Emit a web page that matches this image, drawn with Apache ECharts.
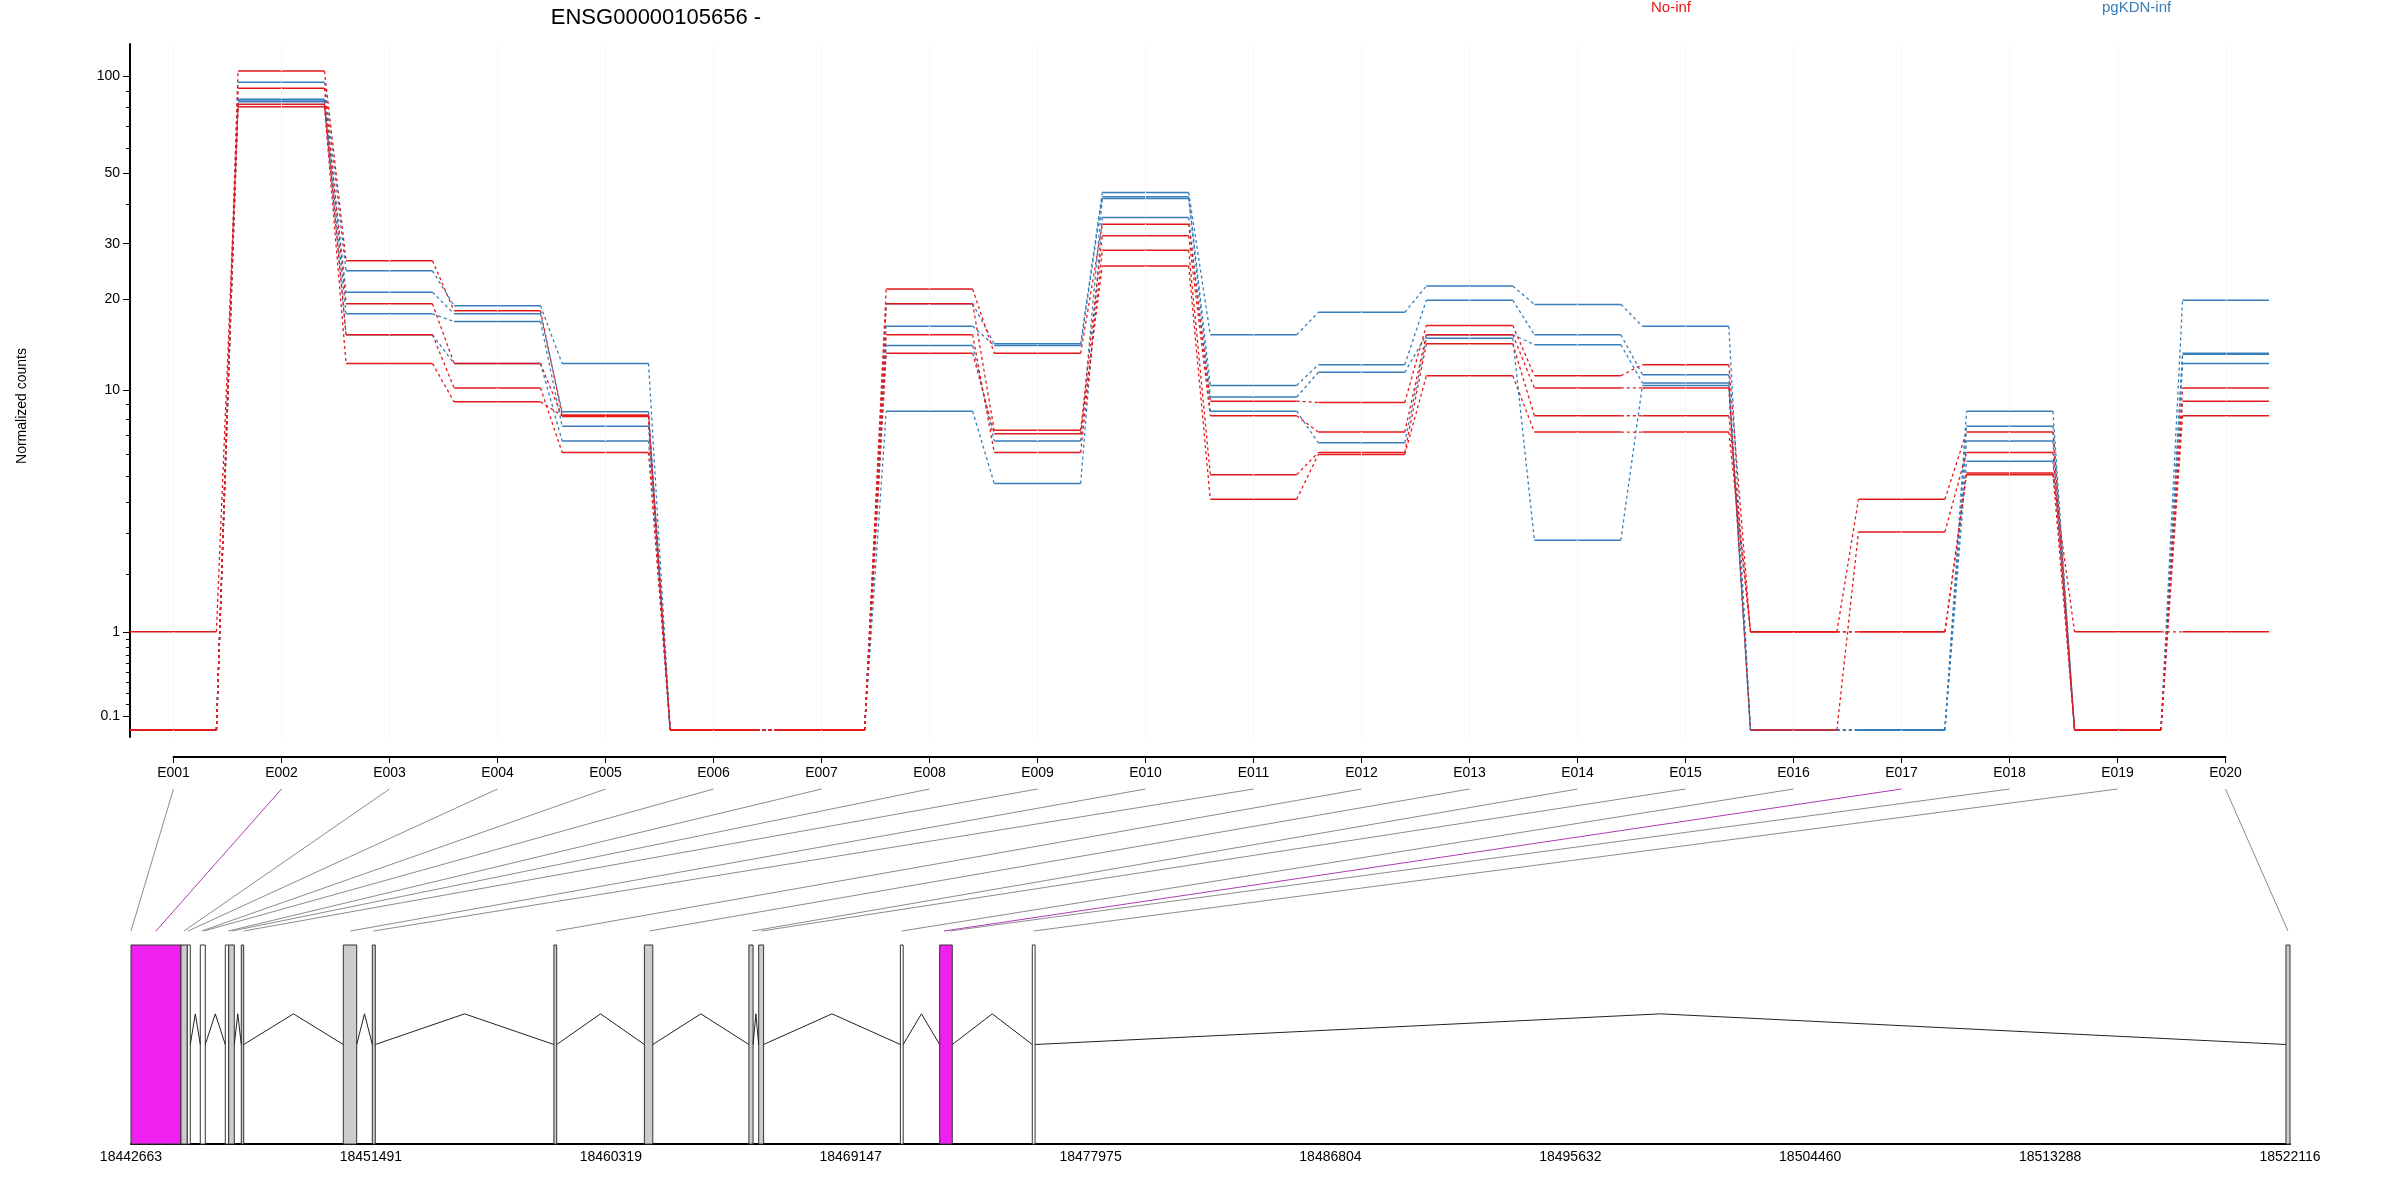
<!DOCTYPE html>
<html><head><meta charset="utf-8">
<script src="https://cdn.jsdelivr.net/npm/echarts@6/dist/echarts.min.js"></script>
<style>html,body{margin:0;padding:0;background:#fff}#c{width:2400px;height:1200px}</style>
</head><body><div id="c"></div>
<script>
const exons = ['E001','E002','E003','E004','E005','E006','E007','E008','E009','E010','E011','E012','E013','E014','E015','E016','E017','E018','E019','E020'];
const noInf1 = [0,104,26.5,18.3,8.25,0,0,21.5,13.3,34.6,9.2,9.1,16.4,11.2,12.2,1,4.1,7.2,0,10.2];
const noInf2 = [0,92,19.3,12.3,8.15,0,0,19.3,7.3,31.8,8.2,7.2,15.3,10.2,10.2,0,3.05,6.1,0,9.2];
const noInf3 = [0,82,15.3,10.2,6.1,0,0,15.3,6.1,28.6,5.07,6.1,14.3,8.2,8.2,1,1,5.14,0,8.2];
const noInf4 = [1,80.5,12.3,9.15,8.2,0,0,13.3,7.1,25.5,4.1,6.0,11.2,7.2,7.2,1,1,5.06,1,1];
const kdn1 = [0,96,24.6,19,12.3,0,0,19.3,14.3,43.5,15.3,18.1,22,19.2,16.3,0,0,8.5,0,19.8];
const kdn2 = [0,85,21,17.9,8.46,0,0,16.3,14.1,42.2,10.4,12.2,19.8,15.3,11.3,0,0,7.55,0,13.3];
const kdn3 = [0,83.5,17.9,16.9,7.55,0,0,14.1,6.7,41.7,9.5,11.5,15.3,14.2,10.6,0,0,6.7,0,13.2];
const kdn4 = [0,84.5,15.3,12.3,6.7,0,0,8.5,4.7,36.3,8.5,6.6,14.9,2.82,10.4,0,0,5.67,0,12.3];
const yTicks = [0.1,1,10,20,30,50,100];
const yMinor = [0.2,0.3,0.4,0.5,0.6,0.7,0.8,0.9,2,3,4,5,6,7,8,9,40,60,70,80,90];
const genomicTicks = [18442663,18451491,18460319,18469147,18477975,18486804,18495632,18504460,18513288,18522116];
const exonStart = [18442663,18444503,18444735,18445213,18446133,18446258,18446722,18450476,18451543,18458226,18461556,18465402,18465762,18470977,18472423,18475831,18521967];
const exonEnd   = [18444503,18444735,18444845,18445397,18446258,18446464,18446810,18450969,18451653,18458329,18461865,18465556,18465943,18471080,18472887,18475934,18522116];
const exonKind  = ['m','g','w','w','w','g','g','g','g','g','g','g','g','w','m','w','g'];
const binPos = [18442663,18443583,18444613,18444761,18445265,18445342,18446247,18446376,18446814,18450737,18451591,18458303,18461737,18465531,18465865,18471029,18472581,18472802,18475882,18522041];
const binSig = [false,true,false,false,false,false,false,false,false,false,false,false,false,false,false,false,true,false,false,false];

const RED='#e41a1c', BLUE='#377eb8';
const FONT="'Liberation Sans Narrow','Liberation Sans',sans-serif";
const tr = v => Math.log10(v+1);

function segSeries(vals,color){
  const d=[];
  vals.forEach((v,i)=>{d.push([i+1-0.4,tr(v)]);d.push([i+1+0.4,tr(v)]);d.push('-');});
  return {type:'line',xAxisIndex:0,yAxisIndex:0,data:d,showSymbol:false,symbol:'none',connectNulls:false,
    lineStyle:{color,width:1.5},animation:false,silent:true};
}
function dashSeries(vals,color){
  const d=[];
  for(let i=0;i<vals.length-1;i++){d.push([i+1+0.4,tr(vals[i])]);d.push([i+2-0.4,tr(vals[i+1])]);d.push('-');}
  return {type:'line',xAxisIndex:0,yAxisIndex:0,data:d,showSymbol:false,symbol:'none',connectNulls:false,
    lineStyle:{color,width:1.3,type:[3,3]},animation:false,silent:true};
}
const series=[];
[kdn1,kdn2,kdn3,kdn4].forEach(v=>{series.push(dashSeries(v,BLUE));});
[noInf1,noInf2,noInf3,noInf4].forEach(v=>{series.push(dashSeries(v,RED));});
[kdn1,kdn2,kdn3,kdn4].forEach(v=>{series.push(segSeries(v,BLUE));});
[noInf1,noInf2,noInf3,noInf4].forEach(v=>{series.push(segSeries(v,RED));});
series[0].markLine={silent:true,symbol:'none',label:{show:false},animation:false,
  lineStyle:{color:'#eeeef4',type:'dotted',width:1},data:exons.map((e,i)=>({xAxis:i+1}))};

series.push({type:'custom',xAxisIndex:2,yAxisIndex:3,animation:false,silent:true,
  data:exonStart.map((s,i)=>[s,exonEnd[i],i]),
  renderItem:(p,api)=>{
    const a=api.coord([api.value(0),1]), b=api.coord([api.value(1),0]);
    const k=exonKind[api.value(2)];
    return {type:'rect',shape:{x:a[0],y:a[1],width:Math.max(b[0]-a[0],1),height:b[1]-a[1]},
      style:{fill:k==='m'?'#f020f0':(k==='g'?'#cccccc':'#ffffff'),stroke:'#333',lineWidth:1}};
  }});
const intr=[];
for(let i=0;i<exonStart.length-1;i++){ if(exonStart[i+1]>exonEnd[i]) intr.push([exonEnd[i],exonStart[i+1]]); }
series.push({type:'custom',xAxisIndex:2,yAxisIndex:3,animation:false,silent:true,data:intr,
  renderItem:(p,api)=>{
    const s=api.value(0), e=api.value(1);
    const p1=api.coord([s,0.5]),p2=api.coord([(s+e)/2,0.654]),p3=api.coord([e,0.5]);
    return {type:'polyline',shape:{points:[p1,p2,p3]},style:{stroke:'#222',lineWidth:1,fill:null}};
  }});
series.push({type:'line',xAxisIndex:1,yAxisIndex:2,data:[],silent:true});

const baseGraphic=[
  {type:'text',left:1671-20,top:0,style:{text:'No-inf',fill:RED,font:'15px '+FONT}},
  {type:'text',left:2134-32,top:0,style:{text:'pgKDN-inf',fill:BLUE,font:'15px '+FONT}},
  {type:'text',x:22,y:406,rotation:Math.PI/2,style:{text:'Normalized counts',fill:'#000',font:'14px '+FONT,align:'center',verticalAlign:'middle'}}
];
const option={
  backgroundColor:'#fff',animation:false,
  title:{text:'ENSG00000105656 -',left:651,top:2,textAlign:'center',textStyle:{fontFamily:FONT,fontSize:22,fontWeight:'normal',color:'#000'}},
  graphic:baseGraphic,
  grid:[
    {left:130,top:44,width:2139,height:693},
    {left:173.5,top:700,width:2052,height:57},
    {left:131,top:945,width:2159,height:199}
  ],
  xAxis:[
    {gridIndex:0,type:'value',min:0.6,max:20.4,show:false},
    {gridIndex:1,type:'value',min:1,max:20,interval:1,position:'bottom',
      axisLine:{lineStyle:{color:'#000',width:2}},axisTick:{length:6,lineStyle:{color:'#000'}},splitLine:{show:false},
      axisLabel:{margin:9,fontFamily:FONT,fontSize:14,color:'#000',formatter:v=>exons[Math.round(v)-1]||''}},
    {gridIndex:2,type:'value',min:18442663,max:18522116,position:'bottom',
      axisLine:{lineStyle:{color:'#000',width:2}},axisTick:{show:false},splitLine:{show:false},
      axisLabel:{customValues:genomicTicks,margin:6,fontFamily:FONT,fontSize:14,color:'#000',formatter:v=>String(Math.round(v))}}
  ],
  yAxis:[
    {gridIndex:0,type:'value',min:-0.0215,max:2.104,position:'left',
      axisLine:{show:true,lineStyle:{color:'#000',width:2}},splitLine:{show:false},
      axisTick:{show:true,length:7,customValues:yTicks.map(tr),lineStyle:{color:'#000'}},
      axisLabel:{customValues:yTicks.map(tr),fontFamily:FONT,fontSize:14,color:'#000',margin:10,
        formatter:v=>{const r=Math.pow(10,v)-1;return String(Math.round(r*10)/10);}}},
    {gridIndex:0,type:'value',min:-0.0215,max:2.104,position:'left',
      axisLine:{show:false},splitLine:{show:false},axisLabel:{show:false},
      axisTick:{show:true,length:4,customValues:yMinor.map(tr),lineStyle:{color:'#000'}}},
    {gridIndex:1,type:'value',min:0,max:1,show:false},
    {gridIndex:2,type:'value',min:0,max:1,show:false}
  ],
  series:series
};
const chart=echarts.init(document.getElementById('c'),null,{renderer:'canvas'});
chart.setOption(option);
const g=baseGraphic.slice();
const yTop=757+32, yBot=945-14;
exons.forEach((e,i)=>{
  const x1=chart.convertToPixel({xAxisIndex:1},i+1);
  const x2=chart.convertToPixel({xAxisIndex:2},binPos[i]);
  g.push({type:'line',shape:{x1,y1:yTop,x2,y2:yBot},style:{stroke:binSig[i]?'#b03ab0':'#8c8c8c',lineWidth:1},silent:true});
});
chart.setOption({graphic:g});
</script></body></html>
